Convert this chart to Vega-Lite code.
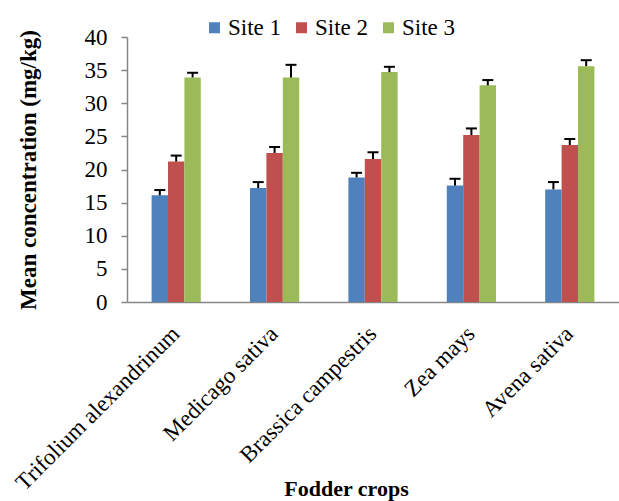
{
  "$schema": "https://vega.github.io/schema/vega-lite/v6.json",
  "width": 492,
  "height": 265,
  "autosize": {"type": "none"},
  "padding": {"left": 127, "top": 37, "right": 0, "bottom": 199},
  "background": "white",
  "config": {
    "font": "Liberation Serif",
    "view": {"stroke": null}
  },
  "data": {
    "values": [
      {"crop": "Trifolium alexandrinum", "site": "Site 1", "mean": 16.1, "upper": 16.9},
      {"crop": "Trifolium alexandrinum", "site": "Site 2", "mean": 21.2, "upper": 22.1},
      {"crop": "Trifolium alexandrinum", "site": "Site 3", "mean": 33.9, "upper": 34.6},
      {"crop": "Medicago sativa", "site": "Site 1", "mean": 17.2, "upper": 18.1},
      {"crop": "Medicago sativa", "site": "Site 2", "mean": 22.5, "upper": 23.4},
      {"crop": "Medicago sativa", "site": "Site 3", "mean": 33.9, "upper": 35.8},
      {"crop": "Brassica campestris", "site": "Site 1", "mean": 18.8, "upper": 19.5},
      {"crop": "Brassica campestris", "site": "Site 2", "mean": 21.6, "upper": 22.6},
      {"crop": "Brassica campestris", "site": "Site 3", "mean": 34.7, "upper": 35.5},
      {"crop": "Zea mays", "site": "Site 1", "mean": 17.6, "upper": 18.6},
      {"crop": "Zea mays", "site": "Site 2", "mean": 25.2, "upper": 26.2},
      {"crop": "Zea mays", "site": "Site 3", "mean": 32.7, "upper": 33.5},
      {"crop": "Avena sativa", "site": "Site 1", "mean": 17.0, "upper": 18.1},
      {"crop": "Avena sativa", "site": "Site 2", "mean": 23.7, "upper": 24.6},
      {"crop": "Avena sativa", "site": "Site 3", "mean": 35.6, "upper": 36.5}
    ]
  },
  "encoding": {
    "x": {
      "field": "crop",
      "type": "nominal",
      "sort": ["Trifolium alexandrinum", "Medicago sativa", "Brassica campestris", "Zea mays", "Avena sativa"],
      "scale": {"paddingInner": 0.5, "paddingOuter": 0.25},
      "axis": {
        "title": "Fodder crops",
        "titleFont": "Liberation Serif",
        "titleFontSize": 22,
        "titleFontWeight": "bold",
        "titleColor": "black",
        "titleX": 219,
        "titleY": 176,
        "titleAnchor": "middle",
        "titleBaseline": "top",
        "labelAngle": -45,
        "labelAlign": "right",
        "labelBaseline": "top",
        "labelFont": "Liberation Serif",
        "labelFontSize": 23,
        "labelColor": "black",
        "labelPadding": 20,
        "labelOffset": -8,
        "labelOverlap": false,
        "labelLimit": 0,
        "ticks": false,
        "domainColor": "#868686",
        "domainWidth": 1.5
      }
    },
    "xOffset": {"field": "site", "type": "nominal", "scale": {"paddingInner": 0, "paddingOuter": 0}},
    "y": {
      "field": "mean",
      "type": "quantitative",
      "scale": {"domain": [0, 40]},
      "axis": {
        "title": "Mean concentration (mg/kg)",
        "titleFont": "Liberation Serif",
        "titleFontSize": 23,
        "titleFontWeight": "bold",
        "titleColor": "black",
        "titlePadding": 44,
        "values": [0, 5, 10, 15, 20, 25, 30, 35, 40],
        "labelOverlap": false,
        "grid": false,
        "labelFont": "Liberation Serif",
        "labelFontSize": 23,
        "labelColor": "black",
        "labelPadding": 14,
        "tickSize": 6,
        "tickColor": "#868686",
        "domainColor": "#868686",
        "domainWidth": 1.5,
        "tickWidth": 1.5
      }
    }
  },
  "layer": [
    {
      "mark": {"type": "bar"},
      "encoding": {
        "color": {
          "field": "site",
          "type": "nominal",
          "scale": {"domain": ["Site 1", "Site 2", "Site 3"], "range": ["#4F81BD", "#C0504D", "#9BBB59"]},
          "legend": {
            "title": null,
            "orient": "none",
            "direction": "horizontal",
            "legendX": 76,
            "legendY": -21,
            "symbolType": "square",
            "symbolSize": 121,
            "symbolStrokeWidth": 0,
            "symbolOpacity": 1,
            "labelFont": "Liberation Serif",
            "labelFontSize": 23,
            "labelColor": "black",
            "labelOffset": 2,
            "columnPadding": 8
          }
        }
      }
    },
    {
      "mark": {"type": "rule", "color": "black", "strokeWidth": 2},
      "encoding": {
        "y2": {"field": "upper"}
      }
    },
    {
      "mark": {"type": "tick", "color": "black", "thickness": 2, "size": 11, "opacity": 1},
      "encoding": {
        "y": {
          "field": "upper",
          "type": "quantitative",
          "scale": {"domain": [0, 40]},
          "axis": {
            "title": "Mean concentration (mg/kg)",
            "titleFont": "Liberation Serif",
            "titleFontSize": 23,
            "titleFontWeight": "bold",
            "titleColor": "black",
            "titlePadding": 44,
            "values": [0, 5, 10, 15, 20, 25, 30, 35, 40],
            "labelOverlap": false,
            "grid": false,
            "labelFont": "Liberation Serif",
            "labelFontSize": 23,
            "labelColor": "black",
            "labelPadding": 14,
            "tickSize": 6,
            "tickColor": "#868686",
            "domainColor": "#868686",
            "domainWidth": 1.5,
            "tickWidth": 1.5
          }
        }
      }
    }
  ]
}
